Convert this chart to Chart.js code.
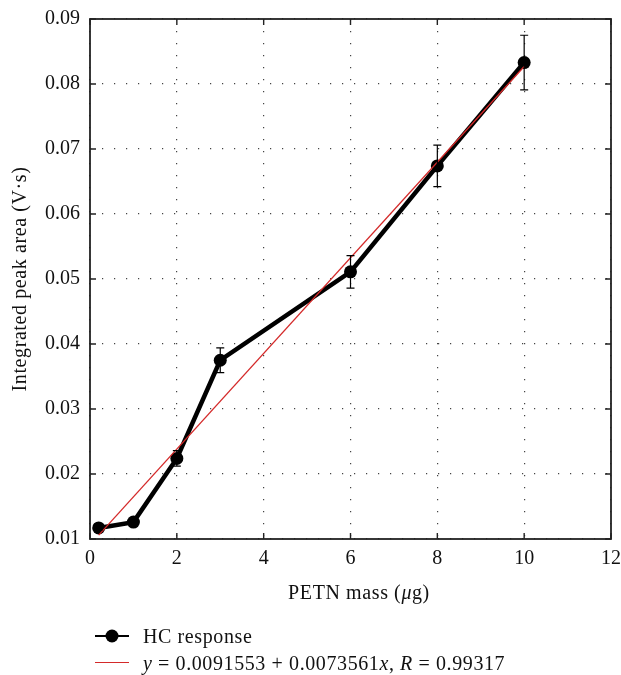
<!DOCTYPE html>
<html><head><meta charset="utf-8">
<script src="https://cdn.jsdelivr.net/npm/chart.js@4/dist/chart.umd.min.js"></script>
<style>html,body{margin:0;padding:0;background:#fff}#wrap{width:621px;height:675px;position:relative}</style>
</head><body><div id="wrap"><canvas id="c" width="621" height="675"></canvas></div>
<script>
// ---- data ----
const massUg = [0.2, 1, 2, 3, 6, 8, 10];
const peakArea = [0.0117, 0.0126, 0.0224, 0.0375, 0.0511, 0.0674, 0.0833];
const peakErr = [0.0003, 0.0003, 0.0012, 0.0019, 0.0025, 0.0032, 0.0042];
const fitX = [0.2, 10];
const fitY = [0.0106, 0.0827];
const xTicks = [0, 2, 4, 6, 8, 10, 12];
const yTicks = [0.01, 0.02, 0.03, 0.04, 0.05, 0.06, 0.07, 0.08, 0.09];
const seriesLabels = ['HC response', 'y = 0.0091553 + 0.0073561x, R = 0.99317'];
const fitLabelParts = [['y', true], [' = 0.0091553 + 0.0073561', false], ['x', true], [', ', false], ['R', true], [' = 0.99317', false]];
const xTitleParts = [['PETN mass (', false], ['\u03bc', true], ['g)', false]];
const yTitle = 'Integrated peak area (V\u00b7s)';

const FONT = "'Liberation Serif', 'DejaVu Serif', serif";
const FS = 20;
const LS = '0.6px';

function drawParts(ctx, parts, x, y, align) {
  let total = 0;
  const widths = parts.map(([t, it]) => { ctx.font = (it ? 'italic ' : '') + FS + 'px ' + FONT; const w = ctx.measureText(t).width; total += w; return w; });
  let cx = align === 'center' ? x - total / 2 : x;
  parts.forEach(([t, it], i) => { ctx.font = (it ? 'italic ' : '') + FS + 'px ' + FONT; ctx.fillText(t, cx, y); cx += widths[i]; });
}

const decor = {
  id: 'decor',
  afterDatasetsDraw(chart) {
    const { ctx, chartArea: a, scales: { x, y } } = chart;
    ctx.save();
    // error bars
    ctx.strokeStyle = '#000'; ctx.lineWidth = 1.2;
    massUg.forEach((m, i) => {
      const px = x.getPixelForValue(m);
      const t = y.getPixelForValue(peakArea[i] + peakErr[i]);
      const b = y.getPixelForValue(peakArea[i] - peakErr[i]);
      ctx.beginPath();
      ctx.moveTo(px, t); ctx.lineTo(px, b);
      ctx.moveTo(px - 4, t); ctx.lineTo(px + 4, t);
      ctx.moveTo(px - 4, b); ctx.lineTo(px + 4, b);
      ctx.stroke();
    });
    // frame
    ctx.strokeStyle = '#222'; ctx.lineWidth = 1.8;
    ctx.strokeRect(a.left, a.top, a.right - a.left, a.bottom - a.top);
    // inward ticks
    ctx.lineWidth = 1.4;
    ctx.beginPath();
    xTicks.forEach(v => { const p = x.getPixelForValue(v); ctx.moveTo(p, a.bottom); ctx.lineTo(p, a.bottom - 6); ctx.moveTo(p, a.top); ctx.lineTo(p, a.top + 6); });
    yTicks.forEach(v => { const p = y.getPixelForValue(v); ctx.moveTo(a.left, p); ctx.lineTo(a.left + 6, p); ctx.moveTo(a.right, p); ctx.lineTo(a.right - 6, p); });
    ctx.stroke();
    // axis titles
    if ('letterSpacing' in ctx) ctx.letterSpacing = LS;
    ctx.fillStyle = '#111'; ctx.textBaseline = 'alphabetic'; ctx.textAlign = 'left';
    drawParts(ctx, xTitleParts, 359, 599, 'center');
    ctx.save();
    ctx.translate(26, (a.top + a.bottom) / 2);
    ctx.rotate(-Math.PI / 2);
    ctx.font = FS + 'px ' + FONT; ctx.textAlign = 'center';
    ctx.fillText(yTitle, 0, 0);
    ctx.restore();
    // legend
    const ds = chart.data.datasets;
    ctx.textAlign = 'left';
    // item 1
    ctx.strokeStyle = ds[0].borderColor; ctx.lineWidth = 2;
    ctx.beginPath(); ctx.moveTo(95, 636); ctx.lineTo(129, 636); ctx.stroke();
    ctx.fillStyle = '#000'; ctx.beginPath(); ctx.arc(112, 636, 6.5, 0, Math.PI * 2); ctx.fill();
    ctx.fillStyle = '#111'; ctx.font = FS + 'px ' + FONT;
    ctx.fillText(ds[0].label, 143, 643);
    // item 2
    ctx.strokeStyle = ds[1].borderColor; ctx.lineWidth = 1.2;
    ctx.beginPath(); ctx.moveTo(95, 662.5); ctx.lineTo(129, 662.5); ctx.stroke();
    drawParts(ctx, fitLabelParts, 143, 670, 'left');
    ctx.restore();
  }
};

new Chart(document.getElementById('c'), {
  type: 'scatter',
  data: {
    datasets: [
      {
        label: seriesLabels[0],
        data: massUg.map((m, i) => ({ x: m, y: peakArea[i] })),
        showLine: true, borderColor: '#000', backgroundColor: '#000', borderWidth: 4.5,
        pointRadius: 6.5, pointHoverRadius: 6.5, pointBackgroundColor: '#000', pointBorderWidth: 0,
        order: 1
      },
      {
        label: seriesLabels[1],
        data: fitX.map((m, i) => ({ x: m, y: fitY[i] })),
        showLine: true, borderColor: '#d42a2a', borderWidth: 1.3, pointRadius: 0,
        order: 0
      }
    ]
  },
  options: {
    responsive: false, animation: false, devicePixelRatio: 1,
    layout: { padding: { left: 0, right: 10, top: 19, bottom: 0 } },
    plugins: { legend: { display: false }, tooltip: { enabled: false } },
    scales: {
      x: {
        type: 'linear', min: 0, max: 12,
        afterFit(s) { s.height = 136; s.paddingLeft = 0; s.paddingRight = 0; },
        afterBuildTicks(s) { s.ticks = xTicks.map(v => ({ value: v })); },
        ticks: { padding: 8, color: '#111', font: { family: FONT, size: FS }, callback: v => String(v), maxRotation: 0 },
        grid: { color: '#444', lineWidth: 1.2, drawTicks: false },
        border: { display: false, dash: [1.2, 10.8] }
      },
      y: {
        type: 'linear', min: 0.01, max: 0.09,
        afterFit(s) { s.width = 90; s.paddingTop = 0; s.paddingBottom = 0; },
        afterBuildTicks(s) { s.ticks = yTicks.map(v => ({ value: v })); },
        ticks: { padding: 10, color: '#111', font: { family: FONT, size: FS }, callback: v => Number(v).toFixed(2) },
        grid: { color: '#444', lineWidth: 1.2, drawTicks: false },
        border: { display: false, dash: [1.2, 10.8] }
      }
    }
  },
  plugins: [decor]
});
</script></body></html>
